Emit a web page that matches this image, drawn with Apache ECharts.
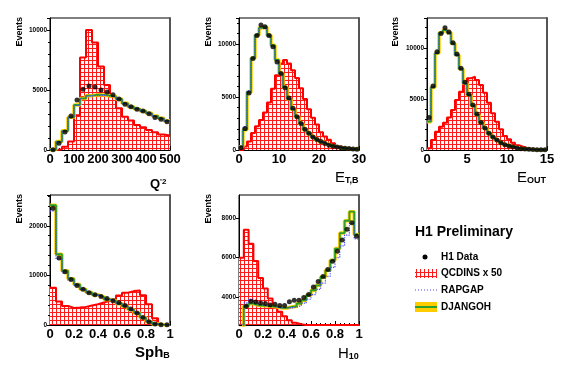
<!DOCTYPE html>
<html><head><meta charset="utf-8">
<script src="https://cdn.jsdelivr.net/npm/echarts@6/dist/echarts.min.js"></script>
<style>html,body{margin:0;padding:0;background:#fff}#c{width:567px;height:384px}</style>
</head><body><div id="c"></div>
<script>
// ---------- DATA ----------
// Q'^2 : 20 bins of 25 from 0 to 500
const q2Bins = {start: 0, width: 25};
const q2Data    = [30, 560, 1500, 2840, 4170, 5060, 5340, 5250, 5000, 4840, 4610, 4250, 3810, 3610, 3390, 3250, 3030, 2700, 2560, 2360];
const q2Djangoh = [20, 700, 1600, 2720, 3750, 4300, 4530, 4610, 4590, 4530, 4450, 4250, 3890, 3610, 3420, 3250, 3060, 2840, 2640, 2420];
const q2Rapgap  = [20, 680, 1580, 2700, 3720, 4280, 4500, 4580, 4560, 4500, 4420, 4230, 3870, 3600, 3400, 3230, 3040, 2820, 2620, 2400];
const q2Qcdins  = [0, 60, 280, 700, 2900, 7700, 10000, 8950, 6950, 5420, 4450, 3470, 2780, 2450, 2080, 1890, 1670, 1470, 1300, 1200];

// E_T,B : 30 bins of 1 from 0 to 30
const etBins = {start: 0, width: 1};
const etData    = [220, 2020, 5380, 8620, 10800, 11790, 11630, 10800, 9740, 8300, 7210, 5870, 4900, 3940, 3140, 2500, 1960, 1570, 1220, 990, 800, 610, 450, 350, 290, 220, 160, 130, 100, 60];
const etDjangoh = [300, 1900, 5450, 8650, 10830, 11540, 11600, 10830, 9870, 8500, 7210, 5930, 4810, 3850, 3140, 2500, 1920, 1540, 1220, 960, 760, 590, 440, 340, 270, 210, 150, 120, 90, 60];
const etRapgap  = [350, 2150, 5600, 8750, 10900, 11450, 11500, 10700, 9750, 8400, 7150, 5900, 4800, 3850, 3150, 2520, 1950, 1560, 1230, 970, 770, 600, 450, 350, 280, 220, 160, 120, 90, 60];
const etQcdins  = [0, 320, 800, 1600, 2240, 2820, 3530, 4490, 5770, 7050, 8170, 8490, 8170, 7530, 6790, 5830, 4810, 3850, 3040, 2400, 1670, 1280, 960, 640, 380, 250, 160, 100, 60, 30];

// E_OUT : 30 bins of 0.5 from 0 to 15
const eoBins = {start: 0, width: 0.5};
const eoData    = [3200, 6280, 9650, 11440, 12000, 11580, 10530, 9420, 8010, 6640, 5460, 4410, 3530, 2710, 2160, 1640, 1280, 980, 720, 520, 390, 290, 200, 130, 100, 65, 50, 35, 30, 20];
const eoDjangoh = [2780, 6150, 9480, 11500, 11770, 11500, 10460, 9320, 7950, 6540, 5400, 4350, 3480, 2700, 2130, 1620, 1260, 960, 710, 510, 380, 280, 190, 130, 95, 65, 45, 35, 25, 20];
const eoRapgap  = [2900, 6250, 9550, 11450, 11700, 11400, 10350, 9250, 7900, 6500, 5380, 4330, 3470, 2700, 2130, 1620, 1260, 960, 710, 510, 380, 280, 190, 130, 95, 65, 45, 35, 25, 20];
const eoQcdins  = [160, 980, 1800, 2290, 2680, 3200, 3920, 4900, 5720, 6700, 7030, 7190, 6870, 6380, 5620, 4640, 3600, 2780, 2030, 1370, 1050, 720, 460, 330, 200, 130, 100, 65, 30, 30];

// Sph_B : 20 bins of 0.05 from 0 to 1
const sphBins = {start: 0, width: 0.05};
const sphData    = [23520, 13520, 10750, 9190, 7980, 7230, 6490, 6080, 5750, 5340, 4870, 4460, 3920, 3240, 2430, 1490, 680, 200, 70, 30];
const sphDjangoh = [24130, 14260, 10950, 9330, 8180, 7230, 6560, 6080, 5680, 5140, 4870, 4330, 3790, 3110, 2430, 1490, 680, 200, 70, 20];
const sphRapgap  = [23000, 13300, 10500, 9000, 8000, 7150, 6500, 6050, 5650, 5150, 4850, 4350, 3800, 3150, 2450, 1500, 690, 210, 70, 20];
const sphQcdins  = [7500, 4730, 3850, 3450, 3520, 3650, 3920, 4190, 4530, 4870, 5270, 5950, 6490, 6830, 6960, 6020, 4200, 1350, 0, 0];

// H10 : 25 bins of 0.04 from 0 to 1
const h10Bins = {start: 0, width: 0.04};
const h10Data    = [null, 3525, 3780, 3745, 3695, 3660, 3590, 3630, 3560, 3560, 3760, 3830, 3830, 3965, 4120, 4510, 4780, 5035, 5390, 5815, 6320, 6900, 7440, 7780, 7085];
const h10Djangoh = [2400, 3540, 3660, 3575, 3560, 3540, 3525, 3490, 3440, 3440, 3490, 3525, 3660, 3830, 4085, 4340, 4590, 5015, 5355, 5865, 6460, 7250, 7880, 8340, 7180];
const h10Rapgap  = [2600, 3700, 3880, 3720, 3600, 3560, 3520, 3480, 3440, 3430, 3440, 3480, 3560, 3680, 3880, 4120, 4380, 4700, 5050, 5500, 6000, 6600, 7150, 7750, 6950];
const h10Qcdins  = [6000, 7425, 6710, 5830, 4965, 4425, 3915, 3525, 3240, 3020, 2815, 2680, 2610, 2575, 2575, 2575, 2575, 2575, 2575, 2575, 2575, 2575, 2575, 2575, 2575];

// axis tick labels
const q2XTicks  = {min: 0, max: 500, interval: 100};
const q2YTicks  = {min: 0, max: 11000, interval: 5000};
const etXTicks  = {min: 0, max: 30, interval: 10};
const etYTicks  = {min: 0, max: 12450, interval: 5000};
const eoXTicks  = {min: 0, max: 15, interval: 5};
const eoYTicks  = {min: 0, max: 12950, interval: 5000};
const sphXTicks = {min: 0, max: 1, interval: 0.2};
const sphYTicks = {min: 0, max: 26200, interval: 10000};
const h10XTicks = {min: 0, max: 1, interval: 0.2};
const h10YTicks = {min: 2570, max: 9190, values: [4000, 6000, 8000]};

const legendNames = ['H1 Data', 'QCDINS x 50', 'RAPGAP', 'DJANGOH'];
// ------------------------------------------------------------

function hatch(size) {
  const c = document.createElement('canvas');
  c.width = c.height = size;
  const g = c.getContext('2d');
  g.fillStyle = '#ffffff'; g.fillRect(0, 0, size, size);
  g.fillStyle = '#ff1a1a';
  g.fillRect(0, 0, size, 1);
  g.fillRect(0, 0, 1, size);
  return c;
}
const hatchImg = hatch(4);

function steps(b, vals) {
  const pts = [];
  vals.forEach((v, i) => {
    if (v == null) return;
    pts.push([b.start + i * b.width, v], [b.start + (i + 1) * b.width, v]);
  });
  return pts;
}
function centers(b, vals) {
  const pts = [];
  vals.forEach((v, i) => { if (v != null) pts.push([b.start + (i + 0.5) * b.width, v]); });
  return pts;
}

const panels = [
  {grid: {left: 50, top: 18, width: 120, height: 132}, bins: q2Bins, xt: q2XTicks, yt: q2YTicks, d: q2Data, dj: q2Djangoh, rg: q2Rapgap, qc: q2Qcdins},
  {grid: {left: 239, top: 18, width: 120, height: 132}, bins: etBins, xt: etXTicks, yt: etYTicks, d: etData, dj: etDjangoh, rg: etRapgap, qc: etQcdins},
  {grid: {left: 427, top: 18, width: 120, height: 132}, bins: eoBins, xt: eoXTicks, yt: eoYTicks, d: eoData, dj: eoDjangoh, rg: eoRapgap, qc: eoQcdins},
  {grid: {left: 50, top: 195, width: 120, height: 130}, bins: sphBins, xt: sphXTicks, yt: sphYTicks, d: sphData, dj: sphDjangoh, rg: sphRapgap, qc: sphQcdins},
  {grid: {left: 239, top: 195, width: 120, height: 130}, bins: h10Bins, xt: h10XTicks, yt: h10YTicks, d: h10Data, dj: h10Djangoh, rg: h10Rapgap, qc: h10Qcdins}
];

const NARROW = '"Liberation Sans Narrow", "Liberation Sans", Arial, sans-serif';
const SANS = '"Liberation Sans", Arial, sans-serif';
const plain = v => String(Math.round(v * 1000) / 1000);

const grids = [], xAxes = [], yAxes = [], series = [];
panels.forEach((p, i) => {
  grids.push(Object.assign({show: true, borderColor: '#000', borderWidth: 1, backgroundColor: 'transparent', containLabel: false, outerBoundsMode: 'none'}, p.grid));
  xAxes.push({
    type: 'value', gridIndex: i, min: p.xt.min, max: p.xt.max, interval: p.xt.interval,
    axisLine: {show: true, onZero: false, lineStyle: {color: '#000', width: 1}},
    axisTick: {show: true, inside: true, length: 4, lineStyle: {color: '#000', width: 1}},
    minorTick: {show: true, splitNumber: 5, length: 2, lineStyle: {color: '#000', width: 1}},
    splitLine: {show: false}, minorSplitLine: {show: false},
    axisLabel: {fontFamily: NARROW, fontWeight: 'bold', fontSize: 13, color: '#000', margin: 3, formatter: plain}
  });
  const y = {
    type: 'value', gridIndex: i, min: p.yt.min, max: p.yt.max,
    axisLine: {show: true, onZero: false, lineStyle: {color: '#000', width: 1}},
    axisTick: {show: true, inside: false, length: 3, lineStyle: {color: '#000', width: 1}},
    splitLine: {show: false},
    axisLabel: {fontFamily: NARROW, fontWeight: 'bold', fontSize: 6.5, color: '#000', margin: 3, showMaxLabel: false, formatter: plain}
  };
  if (p.yt.values) {
    y.axisLabel.customValues = p.yt.values;
    y.axisTick.customValues = p.yt.values;
    y.axisLabel.showMaxLabel = true;
  } else {
    y.interval = p.yt.interval;
    y.minorTick = {show: true, splitNumber: 5, length: 2, lineStyle: {color: '#000', width: 1}};
  }
  yAxes.push(y);

  const common = {xAxisIndex: i, yAxisIndex: i, type: 'line', symbol: 'none', silent: true, animation: false, clip: true};
  series.push(Object.assign({}, common, {name: legendNames[1], data: steps(p.bins, p.qc), z: 1,
    lineStyle: {color: '#ff0000', width: 2},
    areaStyle: {color: {image: hatchImg, repeat: 'repeat'}, origin: 'start', opacity: 1}}));
  series.push(Object.assign({}, common, {name: legendNames[3] + ' band', data: steps(p.bins, p.dj), z: 2,
    lineStyle: {color: '#ffcc00', width: 3.5}}));
  series.push(Object.assign({}, common, {name: legendNames[3], data: steps(p.bins, p.dj), z: 3,
    lineStyle: {color: '#2ca02c', width: 1.8}}));
  series.push(Object.assign({}, common, {name: legendNames[2], data: steps(p.bins, p.rg), z: 4,
    lineStyle: {color: '#4a4aff', width: 1.2, type: 'dotted'}}));
  series.push({name: legendNames[0], type: 'scatter', xAxisIndex: i, yAxisIndex: i, data: centers(p.bins, p.d),
    symbol: 'circle', symbolSize: 5, itemStyle: {color: '#000'}, z: 5, silent: true, animation: false});
});
// grey right-hand frame edges
panels.forEach((p, i) => {
  yAxes.push({type: 'value', gridIndex: i, position: 'right', min: 0, max: 1,
    axisLine: {show: true, onZero: false, lineStyle: {color: '#555', width: 2}},
    axisTick: {show: false}, axisLabel: {show: false}, splitLine: {show: false}});
});

function evLabel(x, y) {
  return {type: 'text', x: x, y: y, rotation: Math.PI / 2, silent: true,
    style: {text: 'Events', font: 'bold 9px ' + SANS, fill: '#000', textAlign: 'right', textVerticalAlign: 'middle'}};
}
function axTitle(x, y, main, sub, mainFont, subFont, pos) {
  return {type: 'text', x: x, y: y, silent: true,
    style: {text: '{a|' + main + '}{b|' + sub + '}', textVerticalAlign: 'bottom', textAlign: 'left',
      rich: {a: {font: mainFont, fill: '#000'}, b: {font: subFont, fill: '#000', verticalAlign: pos}}}};
}

const graphic = [
  evLabel(20, 17), evLabel(209, 17), evLabel(396, 17), evLabel(20, 194), evLabel(209, 194),
  axTitle(150, 191, 'Q', "'2", 'bold 13px ' + SANS, 'bold 8px ' + SANS, 'top'),
  axTitle(335, 185, 'E', 'T,B', '15px ' + NARROW, 'bold 9px ' + SANS, 'bottom'),
  axTitle(517, 185, 'E', 'OUT', '15px ' + NARROW, 'bold 9px ' + SANS, 'bottom'),
  axTitle(135, 360, 'Sph', 'B', 'bold 15px ' + NARROW, 'bold 9px ' + SANS, 'bottom'),
  axTitle(338, 361, 'H', '10', '15px ' + SANS, 'bold 9px ' + SANS, 'bottom'),
  // legend block
  {type: 'text', x: 415, y: 232, silent: true, style: {text: 'H1 Preliminary', font: 'bold 14px ' + SANS, fill: '#000', textVerticalAlign: 'middle'}},
  {type: 'circle', shape: {cx: 425, cy: 257, r: 2.5}, style: {fill: '#000'}, silent: true},
  {type: 'text', x: 441, y: 257, silent: true, style: {text: legendNames[0], font: 'bold 10px ' + SANS, fill: '#000', textVerticalAlign: 'middle'}},
  {type: 'rect', shape: {x: 415, y: 269, width: 22, height: 9}, style: {fill: {image: hatchImg, repeat: 'repeat'}}, silent: true},
  {type: 'text', x: 441, y: 273.5, silent: true, style: {text: legendNames[1], font: 'bold 10px ' + SANS, fill: '#000', textVerticalAlign: 'middle'}},
  {type: 'line', shape: {x1: 415, y1: 290, x2: 437, y2: 290}, style: {stroke: '#4a4aff', lineWidth: 1.2, lineDash: [1, 2]}, silent: true},
  {type: 'text', x: 441, y: 290, silent: true, style: {text: legendNames[2], font: 'bold 10px ' + SANS, fill: '#000', textVerticalAlign: 'middle'}},
  {type: 'rect', shape: {x: 415, y: 302, width: 22, height: 10}, style: {fill: '#ffcc00'}, silent: true},
  {type: 'line', shape: {x1: 415, y1: 307, x2: 437, y2: 307}, style: {stroke: '#2ca02c', lineWidth: 2}, silent: true},
  {type: 'text', x: 441, y: 307, silent: true, style: {text: legendNames[3], font: 'bold 10px ' + SANS, fill: '#000', textVerticalAlign: 'middle'}}
];

const chart = echarts.init(document.getElementById('c'), null, {renderer: 'canvas', width: 567, height: 384});
chart.setOption({
  backgroundColor: '#fff',
  animation: false,
  grid: grids, xAxis: xAxes, yAxis: yAxes, series: series, graphic: graphic
});
</script></body></html>
